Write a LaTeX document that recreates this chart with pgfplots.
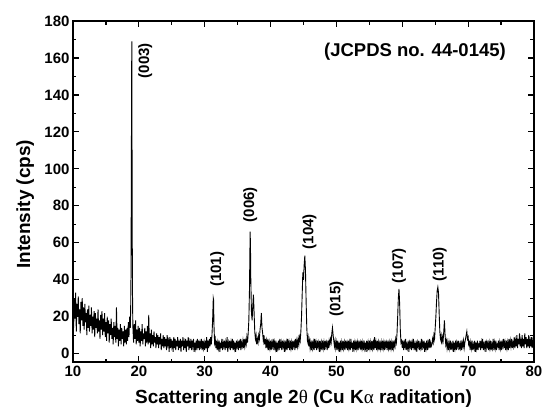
\documentclass[border=0pt]{standalone}
\usepackage{fontspec}
\setmainfont{Liberation Sans}
\newfontfamily\greekfont{Liberation Serif}
\usepackage{pgfplots}
\pgfplotsset{compat=1.18}
\begin{document}
\begin{tikzpicture}
\useasboundingbox (-73pt,-46pt) rectangle (469pt,362pt);
\begin{axis}[
    at={(0,0)}, anchor=south west,
    scale only axis, width=461pt, height=341pt,
    xmin=10, xmax=80, ymin=-4.5, ymax=180,
    xtick distance=10, ytick distance=20,
    minor x tick num=1, minor y tick num=1,
    tick align=inside, major tick length=6pt, minor tick length=3.5pt,
    axis line style={line width=1.6pt},
    every tick/.style={black, line width=1.2pt},
    /pgf/number format/assume math mode=true,
    tick label style={font=\fontsize{15}{15}\selectfont\bfseries},
    label style={font=\fontsize{19}{19}\selectfont\bfseries},
    xlabel={Scattering angle 2{\greekfont\mdseries θ} (Cu K{\greekfont\mdseries α} raditation)},
    ylabel={Intensity (cps)},
    xlabel style={at={(axis description cs:0.5,-0.122)}, anchor=base},
    ylabel style={at={(axis description cs:-0.093,0.463)}, anchor=base},
]
% XRD scan
\addplot[black, line width=0.9pt] coordinates {
(10.0,25)(10.1,14)(10.2,30)(10.3,19)(10.4,33)(10.5,12)(10.6,27)(10.7,20)(10.8,31)(10.9,16)
(11.0,24)(11.1,11)(11.2,28)(11.3,18)(11.4,30)(11.5,15)(11.6,25)(11.7,13)(11.8,27)(11.9,17)
(12.0,22)(12.1,10)(12.2,24)(12.3,14)(12.4,26)(12.5,12)(12.6,21)(12.7,15)(12.8,25)(12.9,11)
(13.0,20)(13.1,13)(13.2,23)(13.3,9)(13.4,22)(13.5,14)(13.6,19)(13.7,11)(13.8,24)(13.9,12)
(14.0,18)(14.1,8)(14.2,21)(14.3,13)(14.4,23)(14.5,10)(14.6,19)(14.7,12)(14.8,22)(14.9,9)
(15.0,17)(15.1,7)(15.2,20)(15.3,11)(15.4,18)(15.5,6)(15.6,16)(15.7,10)(15.8,19)(15.9,8)
(16.0,14)(16.1,5)(16.2,17)(16.3,9)(16.4,15)(16.5,6)(16.6,25)(16.7,8)(16.8,14)(16.9,4)
(17.0,13)(17.1,7)(17.2,16)(17.3,5)(17.4,14)(17.5,8)(17.6,12)(17.7,4)(17.8,15)(17.9,6)
(18.0,13)(18.1,5)(18.2,14)(18.3,7)(18.4,17)(18.5,9)(18.6,20)(18.7,14)
(18.75,22)(18.80,40)(18.85,85)(18.90,150)(18.93,169)(18.96,120)(19.00,60)(19.05,25)(19.1,14)
(19.2,6)(19.3,16)(19.4,8)(19.5,18)(19.6,5)(19.7,13)(19.8,7)(19.9,15)
(20.0,6)(20.1,14)(20.2,4)(20.3,12)(20.4,7)(20.5,16)(20.6,5)(20.7,11)(20.8,8)(20.9,14)
(21.0,4)(21.1,12)(21.2,6)(21.3,15)(21.4,5)(21.5,21)(21.6,6)(21.7,11)(21.8,3)(21.9,13)
(22.0,5)(22.1,10)(22.2,4)(22.3,12)(22.4,6)(22.5,9)(22.6,3)(22.7,11)(22.8,5)(22.9,10)
(23.0,3)(23.1,9)(23.2,5)(23.3,11)(23.4,2)(23.5,8)(23.6,4)(23.7,10)(23.8,3)(23.9,9)
(24.0,4)(24.1,8)(24.2,2)(24.3,10)(24.4,5)(24.5,7)(24.6,1)(24.7,9)(24.8,3)(24.9,8)
(25.0,4)(25.1,7)(25.2,1)(25.3,9)(25.4,3)(25.5,8)(25.6,2)(25.7,7)(25.8,4)(25.9,9)
(26.0,2)(26.1,7)(26.2,3)(26.3,8)(26.4,1)(26.5,7)(26.6,4)(26.7,9)(26.8,2)(26.9,6)
(27.0,3)(27.1,8)(27.2,1)(27.3,7)(27.4,4)(27.5,9)(27.6,2)(27.7,6)(27.8,3)(27.9,8)
(28.0,2)(28.1,7)(28.2,4)(28.3,8)(28.4,1)(28.5,6)(28.6,3)(28.7,7)(28.8,2)(28.9,8)
(29.0,3)(29.1,7)(29.2,2)(29.3,6)(29.4,4)(29.5,8)(29.6,2)(29.7,7)(29.8,3)(29.9,6)
(30.0,2)(30.1,7)(30.2,3)(30.3,9)(30.4,1)(30.5,7)(30.6,3)(30.7,8)(30.8,4)(30.9,9)
(31.0,5)(31.1,10)(31.2,18)(31.3,30)(31.35,29)(31.4,16)(31.5,6)(31.6,8)(31.7,3)(31.8,7)(31.9,2)
(32.0,6)(32.1,3)(32.2,7)(32.3,1)(32.4,6)(32.5,3)(32.6,8)(32.7,2)(32.8,6)(32.9,4)
(33.0,7)(33.1,2)(33.2,6)(33.3,3)(33.4,9)(33.5,1)(33.6,6)(33.7,4)(33.8,7)(33.9,2)
(34.0,6)(34.1,3)(34.2,8)(34.3,2)(34.4,7)(34.5,3)(34.6,6)(34.7,1)(34.8,7)(34.9,4)
(35.0,6)(35.1,2)(35.2,7)(35.3,3)(35.4,8)(35.5,2)(35.6,6)(35.7,4)(35.8,7)(35.9,3)
(36.0,8)(36.1,4)(36.2,7)(36.3,5)(36.4,9)(36.5,6)(36.6,11)(36.7,18)(36.8,35)(36.85,52)(36.9,66)
(36.95,58)(37.0,40)(37.1,22)(37.2,18)(37.3,26)(37.4,32)(37.5,22)(37.6,12)(37.7,8)(37.8,10)(37.9,5)
(38.0,8)(38.1,6)(38.2,10)(38.3,8)(38.4,13)(38.5,16)(38.6,22)(38.7,14)(38.8,11)(38.9,7)
(39.0,10)(39.1,5)(39.2,8)(39.3,3)(39.4,7)(39.5,4)(39.6,8)(39.7,2)(39.8,6)(39.9,3)
(40.0,7)(40.1,2)(40.2,6)(40.3,4)(40.4,8)(40.5,2)(40.6,6)(40.7,3)(40.8,7)(40.9,1)
(41.0,6)(41.1,3)(41.2,7)(41.3,2)(41.4,8)(41.5,3)(41.6,6)(41.7,2)(41.8,7)(41.9,4)
(42.0,6)(42.1,1)(42.2,7)(42.3,3)(42.4,6)(42.5,2)(42.6,8)(42.7,3)(42.8,6)(42.9,2)
(43.0,7)(43.1,3)(43.2,6)(43.3,2)(43.4,7)(43.5,4)(43.6,6)(43.7,2)(43.8,8)(43.9,3)
(44.0,7)(44.1,4)(44.2,8)(44.3,5)(44.4,9)(44.5,7)(44.6,12)(44.7,20)(44.8,32)(44.9,44)
(45.0,40)(45.1,48)(45.2,53)(45.3,45)(45.4,28)(45.5,14)(45.6,7)(45.7,9)(45.8,4)(45.9,7)
(46.0,3)(46.1,6)(46.2,2)(46.3,7)(46.4,3)(46.5,6)(46.6,2)(46.7,8)(46.8,3)(46.9,6)
(47.0,2)(47.1,7)(47.2,4)(47.3,6)(47.4,1)(47.5,7)(47.6,3)(47.7,6)(47.8,2)(47.9,7)
(48.0,3)(48.1,6)(48.2,2)(48.3,7)(48.4,4)(48.5,6)(48.6,2)(48.7,7)(48.8,3)(48.9,7)
(49.0,5)(49.1,8)(49.2,6)(49.3,11)(49.4,14)(49.5,10)(49.6,7)(49.7,4)(49.8,7)(49.9,3)
(50.0,6)(50.1,2)(50.2,7)(50.3,3)(50.4,6)(50.5,1)(50.6,7)(50.7,3)(50.8,6)(50.9,2)
(51.0,7)(51.1,3)(51.2,6)(51.3,2)(51.4,7)(51.5,4)(51.6,6)(51.7,2)(51.8,7)(51.9,3)
(52.0,6)(52.1,2)(52.2,8)(52.3,3)(52.4,6)(52.5,1)(52.6,7)(52.7,3)(52.8,6)(52.9,2)
(53.0,7)(53.1,3)(53.2,6)(53.3,2)(53.4,7)(53.5,4)(53.6,6)(53.7,2)(53.8,7)(53.9,3)
(54.0,6)(54.1,2)(54.2,7)(54.3,3)(54.4,6)(54.5,1)(54.6,7)(54.7,3)(54.8,6)(54.9,2)
(55.0,7)(55.1,3)(55.2,6)(55.3,2)(55.4,7)(55.5,3)(55.6,6)(55.7,2)(55.8,9)(55.9,3)
(56.0,6)(56.1,2)(56.2,7)(56.3,3)(56.4,6)(56.5,2)(56.6,7)(56.7,3)(56.8,6)(56.9,2)
(57.0,7)(57.1,3)(57.2,6)(57.3,2)(57.4,7)(57.5,4)(57.6,6)(57.7,2)(57.8,7)(57.9,3)
(58.0,6)(58.1,2)(58.2,7)(58.3,3)(58.4,6)(58.5,2)(58.6,7)(58.7,3)(58.8,6)(58.9,4)
(59.0,8)(59.1,6)(59.2,11)(59.3,20)(59.4,30)(59.5,35)(59.6,27)(59.7,13)(59.8,6)(59.9,7)
(60.0,3)(60.1,7)(60.2,2)(60.3,6)(60.4,4)(60.5,8)(60.6,2)(60.7,5)(60.8,3)(60.9,7)
(61.0,1)(61.1,6)(61.2,4)(61.3,7)(61.4,2)(61.5,6)(61.6,3)(61.7,8)(61.8,2)(61.9,5)
(62.0,3)(62.1,7)(62.2,1)(62.3,6)(62.4,4)(62.5,7)(62.6,2)(62.7,5)(62.8,3)(62.9,8)
(63.0,2)(63.1,6)(63.2,4)(63.3,7)(63.4,1)(63.5,6)(63.6,3)(63.7,7)(63.8,2)(63.9,6)
(64.0,4)(64.1,8)(64.2,3)(64.3,6)(64.4,4)(64.5,5)(64.6,8)(64.7,6)(64.8,10)(64.9,8)
(65.0,14)(65.1,20)(65.2,28)(65.3,34)(65.4,36)(65.5,33)(65.6,22)(65.7,12)(65.8,8)(65.9,10)
(66.0,5)(66.1,9)(66.2,7)(66.3,12)(66.4,18)(66.5,10)(66.6,5)(66.7,7)(66.8,3)(66.9,6)
(67.0,2)(67.1,6)(67.2,3)(67.3,7)(67.4,2)(67.5,5)(67.6,3)(67.7,7)(67.8,1)(67.9,6)
(68.0,3)(68.1,7)(68.2,2)(68.3,6)(68.4,4)(68.5,7)(68.6,2)(68.7,5)(68.8,3)(68.9,7)
(69.0,2)(69.1,6)(69.2,4)(69.3,7)(69.4,3)(69.5,6)(69.6,8)(69.7,10)(69.8,12)(69.9,8)
(70.0,9)(70.1,4)(70.2,7)(70.3,2)(70.4,6)(70.5,3)(70.6,7)(70.7,2)(70.8,5)(70.9,3)
(71.0,7)(71.1,1)(71.2,6)(71.3,3)(71.4,7)(71.5,2)(71.6,5)(71.7,4)(71.8,7)(71.9,2)
(72.0,6)(72.1,3)(72.2,8)(72.3,2)(72.4,5)(72.5,3)(72.6,7)(72.7,1)(72.8,6)(72.9,4)
(73.0,7)(73.1,2)(73.2,6)(73.3,3)(73.4,7)(73.5,2)(73.6,5)(73.7,3)(73.8,8)(73.9,2)
(74.0,6)(74.1,3)(74.2,7)(74.3,2)(74.4,5)(74.5,4)(74.6,7)(74.7,2)(74.8,6)(74.9,3)
(75.0,7)(75.1,2)(75.2,6)(75.3,4)(75.4,8)(75.5,3)(75.6,6)(75.7,2)(75.8,7)(75.9,3)
(76.0,6)(76.1,2)(76.2,8)(76.3,3)(76.4,7)(76.5,4)(76.6,8)(76.7,3)(76.8,6)(76.9,4)
(77.0,9)(77.1,3)(77.2,7)(77.3,4)(77.4,10)(77.5,3)(77.6,8)(77.7,5)(77.8,11)(77.9,4)
(78.0,7)(78.1,3)(78.2,10)(78.3,4)(78.4,8)(78.5,3)(78.6,11)(78.7,5)(78.8,9)(78.9,3)
(79.0,8)(79.1,4)(79.2,10)(79.3,3)(79.4,7)(79.5,4)(79.6,9)(79.7,3)(79.8,7)(79.9,4)(80.0,6)
};
\begin{scope}[every node/.style={font=\fontsize{15}{15}\selectfont\bfseries, rotate=90, anchor=west, inner sep=0pt}]
\node at (axis cs:20.96,149) {(003)};
\node at (axis cs:31.9,36) {(101)};
\node at (axis cs:36.9,71) {(006)};
\node at (axis cs:45.9,56.5) {(104)};
\node at (axis cs:50.0,20) {(015)};
\node at (axis cs:59.5,38) {(107)};
\node at (axis cs:65.7,39) {(110)};
\end{scope}
\node[font=\fontsize{18.5}{18.5}\selectfont\bfseries, anchor=base east, inner sep=0pt] at (axis cs:75.75,161) {(JCPDS no. 44-0145)};
\end{axis}
\end{tikzpicture}
\end{document}
